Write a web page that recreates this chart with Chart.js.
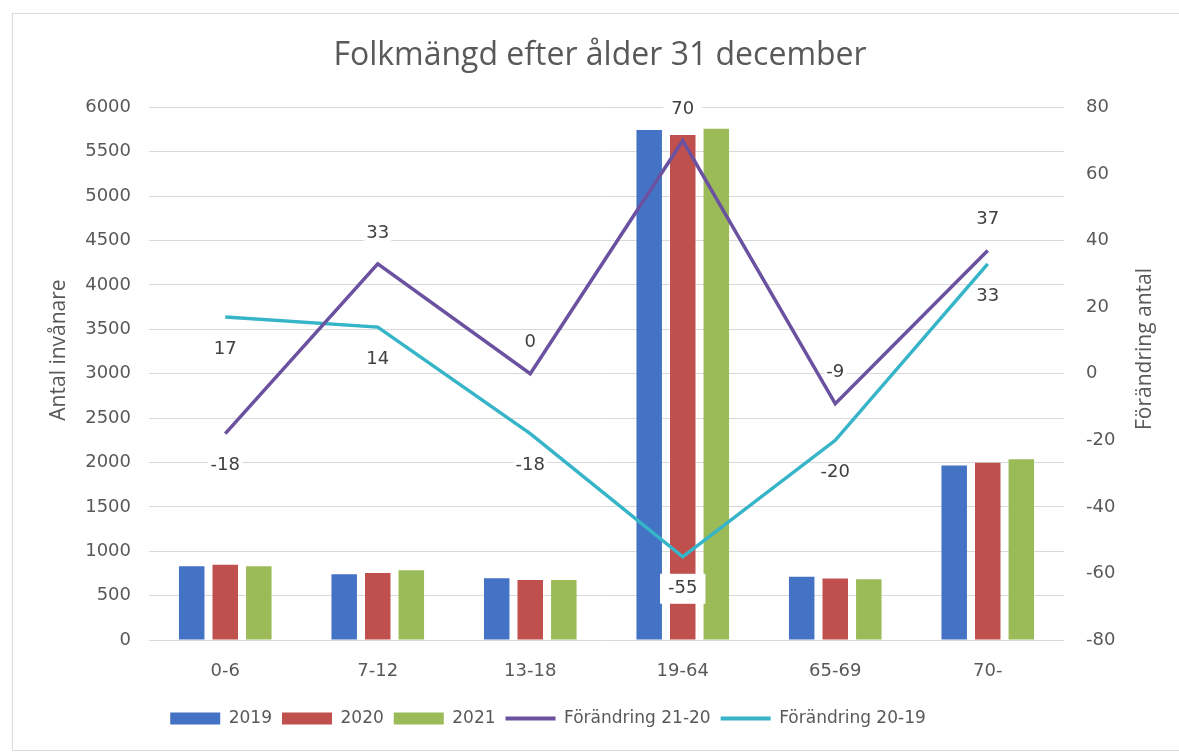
<!DOCTYPE html>
<html>
<head>
<meta charset="utf-8">
<script src="https://cdn.jsdelivr.net/npm/chart.js@4"></script>
<style>
    html, body { margin: 0; padding: 0; background: #fff; }
    #frame { position: absolute; left: 12px; top: 13px; width: 1180px; height: 736px; border: 1px solid #d9d9d9; }
    #wrap { position: absolute; left: 0; top: 0; width: 1179px; height: 755px; }
</style>
</head>
<body>
<div id="frame"></div>
<div id="wrap"><canvas id="chart"></canvas></div>
<script>
// Folkmängd efter ålder 31 december

const categories = ['0-6', '7-12', '13-18', '19-64', '65-69', '70-'];
const pop2019 = [832, 740, 695, 5745, 712, 1965];
const pop2020 = [849, 754, 677, 5690, 692, 1998];
const pop2021 = [831, 787, 677, 5760, 683, 2035];
const change2120 = [-18, 33, 0, 70, -9, 37];
const change2019 = [17, 14, -18, -55, -20, 33];

const GREY = '#595959';

// value labels next to the line points (white box behind, like Excel)
const pointLabels = {
    id: 'pointLabels',
    afterDatasetsDraw(chart) {
        const ctx = chart.ctx;
        ctx.save();
        ctx.font = '18px "DejaVu Sans"';
        ctx.textAlign = 'center';
        ctx.textBaseline = 'middle';
        chart.data.datasets.forEach((ds, i) => {
            if (!ds.labelSide) return;
            const meta = chart.getDatasetMeta(i);
            meta.data.forEach((pt, j) => {
                const txt = String(ds.data[j]);
                const y = pt.y + (ds.labelSide[j] === 'up' ? -31 : 32);
                const w = ctx.measureText(txt).width;
                // only blank out the box where it sits on a bar
                const onBar = chart.data.datasets[1].data[j] > 5000;
                ctx.fillStyle = '#fff';
                if (onBar) ctx.fillRect(pt.x - w / 2 - 8, y - 15, w + 16, 30);
                else ctx.fillRect(pt.x - w / 2 - 2, y - 9, w + 4, 18);
                ctx.fillStyle = '#404040';
                ctx.fillText(txt, pt.x, y);
            });
        });
        ctx.restore();
    }
};

// both axis titles read bottom to top, so draw them here
const axisTitles = {
    id: 'axisTitles',
    afterDraw(chart) {
        const ctx = chart.ctx;
        const put = (text, x, y) => {
            ctx.save();
            ctx.translate(x, y);
            ctx.rotate(-Math.PI / 2);
            ctx.font = '21px "Open Sans"';
            ctx.fillStyle = GREY;
            ctx.textAlign = 'center';
            ctx.textBaseline = 'middle';
            ctx.fillText(text, 0, 0);
            ctx.restore();
        };
        put('Antal invånare', 59, 350);
        put('Förändring antal', 1145, 349);
    }
};

// Excel centres the legend a bit left of the title
const legendShift = {
    id: 'legendShift',
    afterLayout(chart) {
        chart.legend.left -= 52;
        chart.legend.right -= 52;
    }
};

const barOpts = { categoryPercentage: 0.66, barPercentage: 0.76, order: 1, yAxisID: 'y' };
const lineOpts = { type: 'line', yAxisID: 'y2', order: 0, borderWidth: 3.5, pointRadius: 0, tension: 0, fill: false };
const tickFont = { family: 'DejaVu Sans', size: 18 };

new Chart(document.getElementById('chart'), {
    type: 'bar',
    data: {
        labels: categories,
        datasets: [
            { ...barOpts, label: '2019', data: pop2019, backgroundColor: '#4472c4' },
            { ...barOpts, label: '2020', data: pop2020, backgroundColor: '#c0504d' },
            { ...barOpts, label: '2021', data: pop2021, backgroundColor: '#9bbb59' },
            { ...lineOpts, label: 'Förändring 21-20', data: change2120, borderColor: '#6b52a0', backgroundColor: '#6b52a0',
              labelSide: ['down', 'up', 'up', 'up', 'up', 'up'] },
            { ...lineOpts, label: 'Förändring 20-19', data: change2019, borderColor: '#36b4c8', backgroundColor: '#36b4c8',
              labelSide: ['down', 'down', 'down', 'down', 'down', 'down'] }
        ]
    },
    options: {
        responsive: true,
        maintainAspectRatio: false,
        animation: false,
        layout: { padding: { top: 24, left: 63, right: 42, bottom: 18 } },
        scales: {
            x: {
                grid: { display: false, drawTicks: false },
                border: { display: false },
                ticks: { color: GREY, font: tickFont, padding: 21 },
                afterFit(scale) { scale.height = 60; }
            },
            y: {
                position: 'left',
                min: 0,
                max: 6000,
                ticks: { stepSize: 500, color: GREY, font: tickFont, padding: 18, callback: v => String(v) },
                grid: { color: '#d9d9d9', drawTicks: false },
                border: { display: false },
                afterFit(scale) { scale.width = 86; }
            },
            y2: {
                position: 'right',
                min: -80,
                max: 80,
                ticks: { stepSize: 20, color: GREY, font: tickFont, padding: 22, callback: v => String(v) },
                grid: { display: false, drawTicks: false },
                border: { display: false },
                afterFit(scale) { scale.width = 73; }
            }
        },
        plugins: {
            title: {
                display: true,
                text: 'Folkmängd efter ålder 31 december',
                color: GREY,
                font: { family: 'Open Sans', size: 32, weight: 'normal' },
                padding: { top: 13, bottom: 32 }
            },
            legend: {
                position: 'bottom',
                labels: {
                    color: GREY,
                    font: { family: 'DejaVu Sans', size: 17 },
                    usePointStyle: true,
                    pointStyleWidth: 50,
                    boxHeight: 12,
                    padding: 10,
                    sort: (a, b) => a.datasetIndex - b.datasetIndex,
                    generateLabels(chart) {
                        const items = Chart.defaults.plugins.legend.labels.generateLabels(chart);
                        items.forEach(it => {
                            const ds = chart.data.datasets[it.datasetIndex];
                            if (ds.type === 'line') {
                                it.pointStyle = 'line';
                                it.lineWidth = 4;
                                it.strokeStyle = ds.borderColor;
                            } else {
                                it.pointStyle = 'rect';
                                it.lineWidth = 0;
                            }
                        });
                        return items;
                    }
                }
            },
            tooltip: { enabled: false }
        }
    },
    plugins: [pointLabels, axisTitles, legendShift]
});
</script>
</body>
</html>
